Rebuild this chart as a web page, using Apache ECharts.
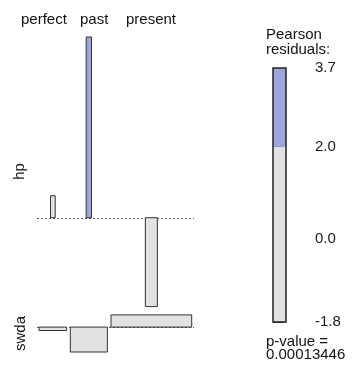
<!DOCTYPE html>
<html>
<head>
<meta charset="utf-8">
<script src="https://cdn.jsdelivr.net/npm/echarts@6/dist/echarts.min.js"></script>
<style>html,body{margin:0;padding:0;background:#fff}#c{width:353px;height:367px}</style>
</head>
<body>
<div id="c"></div>
<script>
// ---- data ----
var rowLabels = ['hp', 'swda'];
var colLabels = ['perfect', 'past', 'present'];
// Pearson residuals per row (hp, swda) x column (perfect, past, present)
var residHp = [0.45, 3.7, -1.82];
var residSwda = [-0.07, -0.51, 0.25];
// sqrt(expected) per cell (arbitrary width units)
var sqrtExpHp = [4.7, 5.3, 12];
var sqrtExpSwda = [27.7, 37, 80.7];
// legend
var legendBreaks = [-1.8, 2.0, 3.7];
var legendTicks = [3.7, 2.0, 0.0, -1.8];
var pValueText = '0.00013446';

var FONT = '"Liberation Sans", Arial, sans-serif';
var BLUE = '#9ea4e0', GRAY = '#e2e2e2', BORDER = '#333333';

var resid = [residHp, residSwda];
var sqrtE = [sqrtExpHp, sqrtExpSwda];

// layout in axis units
var colGap = 3.65, rowGap = 0.17;
var colW = colLabels.map(function (_, j) { return Math.max(sqrtE[0][j], sqrtE[1][j]); });
var colStart = [];
var accX = 0;
colW.forEach(function (w, j) { colStart.push(accX); accX += w + colGap; });
var xTotal = accX - colGap;
var rowMax = resid.map(function (r) { return Math.max(0, Math.max.apply(null, r)); });
var rowMin = resid.map(function (r) { return Math.min(0, Math.min.apply(null, r)); });
var yTotal = 0;
rowMax.forEach(function (m, i) { yTotal += m - rowMin[i]; });
yTotal += rowGap * (rowLabels.length - 1);
var baseline = [];
var rowTop = yTotal;
rowMax.forEach(function (m, i) { baseline.push(rowTop - m); rowTop = rowTop - (m - rowMin[i]) - rowGap; });

var cells = [];
resid.forEach(function (r, i) {
  r.forEach(function (v, j) { cells.push([i, j, v, sqrtE[i][j]]); });
});
var lines = rowLabels.map(function (_, i) { return [i, 0]; });
var legendSegs = [];
for (var k = 0; k < legendBreaks.length - 1; k++) legendSegs.push([legendBreaks[k], legendBreaks[k + 1]]);

var chart = echarts.init(document.getElementById('c'), null, { renderer: 'canvas' });
chart.setOption({
  animation: false,
  backgroundColor: '#ffffff',
  grid: [
    { left: 37, right: 159, top: 37, bottom: 15 },
    { left: 273, width: 13, top: 68, height: 254 }
  ],
  xAxis: [
    { type: 'value', gridIndex: 0, min: -2, max: xTotal + 2.3, show: false },
    { type: 'value', gridIndex: 1, min: 0, max: 1, show: false }
  ],
  yAxis: [
    { type: 'value', gridIndex: 0, min: 0, max: yTotal, show: false },
    {
      type: 'value', gridIndex: 1, min: legendBreaks[0], max: legendBreaks[legendBreaks.length - 1],
      position: 'right', splitLine: { show: false },
      axisLine: { show: false },
      axisTick: { show: true, length: 11, customValues: legendTicks, lineStyle: { color: '#333', width: 1 } },
      axisLabel: { customValues: legendTicks, margin: 29, fontSize: 15, fontFamily: FONT, color: '#1a1a1a',
        formatter: function (v) { return Number(v).toFixed(1); } }
    }
  ],
  series: [
    {
      type: 'custom', xAxisIndex: 0, yAxisIndex: 0, data: lines, z: 1,
      renderItem: function (params, api) {
        var i = api.value(0);
        var p1 = api.coord([-2, baseline[i]]);
        var p2 = api.coord([xTotal + 2.3, baseline[i]]);
        return { type: 'line', shape: { x1: p1[0], y1: Math.round(p1[1]) + 0.5, x2: p2[0], y2: Math.round(p2[1]) + 0.5 },
          style: { stroke: '#555', lineWidth: 1, lineDash: [2, 2] } };
      }
    },
    {
      type: 'custom', xAxisIndex: 0, yAxisIndex: 0, data: cells, z: 2,
      renderItem: function (params, api) {
        var i = api.value(0), j = api.value(1), r = api.value(2), w = api.value(3);
        var cx = colStart[j] + colW[j] / 2;
        var a = api.coord([cx - w / 2, baseline[i] + Math.max(r, 0)]);
        var b = api.coord([cx + w / 2, baseline[i] + Math.min(r, 0)]);
        return { type: 'rect', shape: { x: a[0], y: a[1], width: b[0] - a[0], height: b[1] - a[1] },
          style: { fill: r > 2 ? BLUE : GRAY, stroke: BORDER, lineWidth: 1 } };
      }
    },
    {
      type: 'custom', xAxisIndex: 1, yAxisIndex: 1, data: legendSegs, z: 2,
      renderItem: function (params, api) {
        var lo = api.value(0), hi = api.value(1);
        var a = api.coord([0, hi]);
        var b = api.coord([1, lo]);
        return { type: 'rect', shape: { x: a[0], y: a[1], width: b[0] - a[0], height: b[1] - a[1] },
          style: { fill: lo >= 2 ? BLUE : GRAY, stroke: null } };
      }
    },
    {
      type: 'custom', xAxisIndex: 1, yAxisIndex: 1, data: [[legendBreaks[0], legendBreaks[legendBreaks.length - 1]]], z: 3,
      renderItem: function (params, api) {
        var a = api.coord([0, api.value(1)]);
        var b = api.coord([1, api.value(0)]);
        return { type: 'rect', shape: { x: a[0], y: a[1], width: b[0] - a[0], height: b[1] - a[1] },
          style: { fill: null, stroke: '#222', lineWidth: 1.5 } };
      }
    }
  ],
  graphic: [
    { type: 'text', left: 21, top: 12, style: { text: colLabels[0], font: '15px ' + FONT, fill: '#111' } },
    { type: 'text', left: 80, top: 12, style: { text: colLabels[1], font: '15px ' + FONT, fill: '#111' } },
    { type: 'text', left: 126, top: 12, style: { text: colLabels[2], font: '15px ' + FONT, fill: '#111' } },
    { type: 'text', x: 20, y: 171.5, rotation: Math.PI / 2,
      style: { text: rowLabels[0], font: '15px ' + FONT, fill: '#111', align: 'center', verticalAlign: 'middle' } },
    { type: 'text', x: 20.5, y: 333.5, rotation: Math.PI / 2,
      style: { text: rowLabels[1], font: '15px ' + FONT, fill: '#111', align: 'center', verticalAlign: 'middle' } },
    { type: 'text', left: 266, top: 27, style: { text: 'Pearson\nresiduals:', font: '15px ' + FONT, lineHeight: 15, fill: '#111' } },
    { type: 'text', left: 266, top: 334, style: { text: 'p-value =\n' + pValueText, font: '15px ' + FONT, lineHeight: 13, fill: '#111' } }
  ]
});
</script>
</body>
</html>
